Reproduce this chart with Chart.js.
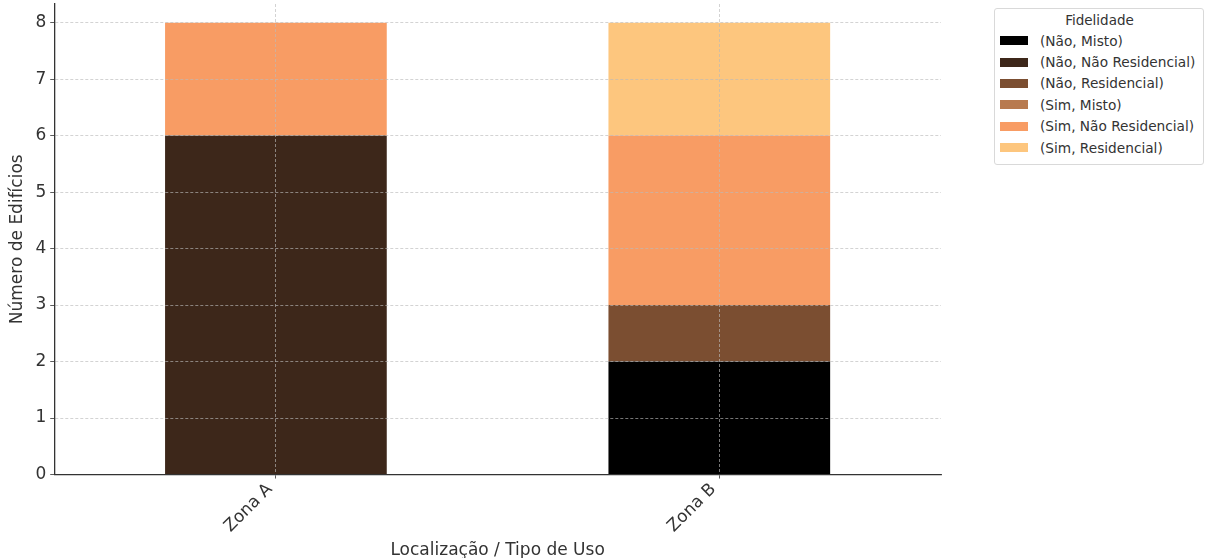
<!DOCTYPE html>
<html lang="pt">
<head>
    <meta charset="UTF-8">
    <title>Número de Edifícios por Zona</title>
    <script src="https://cdn.jsdelivr.net/npm/chart.js"></script>
    <style>
        * {
            box-sizing: border-box;
            margin: 0;
            padding: 0;
        }

        body {
            background: #ffffff;
            font-family: "DejaVu Sans", sans-serif;
        }

        .wrap {
            position: relative;
            width: 1210px;
            height: 558px;
        }

        .legenda {
            position: absolute;
            left: 994px;
            top: 8px;
            width: 210px;
            padding: 3px 4px 6px 5px;
            border: 1px solid #d9d9d9;
            border-radius: 3px;
            background: #fff;
            font-size: 13.7px;
            color: #333;
            white-space: nowrap;
        }

        .legenda h4 {
            font-weight: normal;
            text-align: center;
            font-size: 13.5px;
            margin-bottom: 2px;
        }

        .legenda div {
            display: flex;
            align-items: center;
            height: 21.4px;
        }

        .legenda span.cor {
            width: 28px;
            height: 9px;
            margin-right: 12px;
            flex: none;
            display: inline-block;
        }
    </style>
</head>
<body>

<div class="wrap">
    <canvas id="grafico" width="1210" height="558"></canvas>
    <div class="legenda" id="legenda">
        <h4>Fidelidade</h4>
    </div>
</div>

<script>
    // categorias e séries
    const zonas = ["Zona A", "Zona B"];
    const series = [
        "(Não, Misto)",
        "(Não, Não Residencial)",
        "(Não, Residencial)",
        "(Sim, Misto)",
        "(Sim, Não Residencial)",
        "(Sim, Residencial)"
    ];
    const naoMisto = [0, 2];
    const naoNaoResidencial = [6, 0];
    const naoResidencial = [0, 1];
    const simMisto = [0, 0];
    const simNaoResidencial = [2, 3];
    const simResidencial = [0, 2];
    const valores = [naoMisto, naoNaoResidencial, naoResidencial, simMisto, simNaoResidencial, simResidencial];

    // paleta "copper"
    const cores = ["#000000", "#3d271a", "#7b4e31", "#b87a4f", "#f89c64", "#fdc67e"];

    const ticksY = [0, 1, 2, 3, 4, 5, 6, 7, 8];

    const gradeCor = "rgba(185,185,185,0.8)";

    let datasets = series.map((nome, i) => ({
        label: nome,
        data: valores[i],
        backgroundColor: cores[i],
        borderWidth: 0,
        barPercentage: 0.5,
        categoryPercentage: 1.0
    }));

    // legenda em HTML
    let leg = document.getElementById("legenda");
    series.forEach((nome, i) => {
        let item = document.createElement("div");
        item.innerHTML = '<span class="cor" style="background:' + cores[i] + '"></span>' + nome;
        leg.appendChild(item);
    });

    let ctx = document.getElementById('grafico').getContext('2d');

    new Chart(ctx, {
        type: 'bar',
        data: {
            labels: zonas,
            datasets: datasets
        },
        options: {
            responsive: false,
            animation: false,
            layout: {
                padding: { top: 4, right: 269, left: 7, bottom: 0 }
            },
            plugins: {
                legend: { display: false },
                tooltip: { enabled: false }
            },
            scales: {
                x: {
                    stacked: true,
                    grid: {
                        z: 1,
                        color: gradeCor,
                        lineWidth: 0.8,
                        tickLength: 4,
                        tickColor: "#333",
                        offset: false
                    },
                    border: { z: 2, color: "#333", width: 1.3, dash: [3, 2] },
                    ticks: {
                        color: "#333",
                        font: { family: "DejaVu Sans", size: 17 },
                        maxRotation: 45,
                        minRotation: 45,
                        padding: 1,
                        labelOffset: -6
                    },
                    title: {
                        display: true,
                        text: "Localização / Tipo de Uso",
                        color: "#333",
                        font: { family: "DejaVu Sans", size: 17 },
                        padding: { top: 3, bottom: -3 }
                    }
                },
                y: {
                    stacked: true,
                    min: 0,
                    max: 8.33,
                    afterBuildTicks: (axis) => {
                        axis.ticks = ticksY.map(v => ({ value: v }));
                    },
                    afterFit: (axis) => {
                        axis.paddingTop = 0;
                        axis.paddingBottom = 0;
                    },
                    grid: {
                        z: 1,
                        color: gradeCor,
                        lineWidth: 0.8,
                        tickLength: 4,
                        tickColor: "#333"
                    },
                    border: { z: 2, color: "#333", width: 1.3, dash: [3, 2] },
                    ticks: {
                        color: "#333",
                        font: { family: "DejaVu Sans", size: 17 },
                        padding: 4
                    },
                    title: {
                        display: true,
                        text: "Número de Edifícios",
                        color: "#333",
                        font: { family: "DejaVu Sans", size: 17 },
                        padding: { top: 0, bottom: 4 }
                    }
                }
            }
        }
    });
</script>

</body>
</html>
